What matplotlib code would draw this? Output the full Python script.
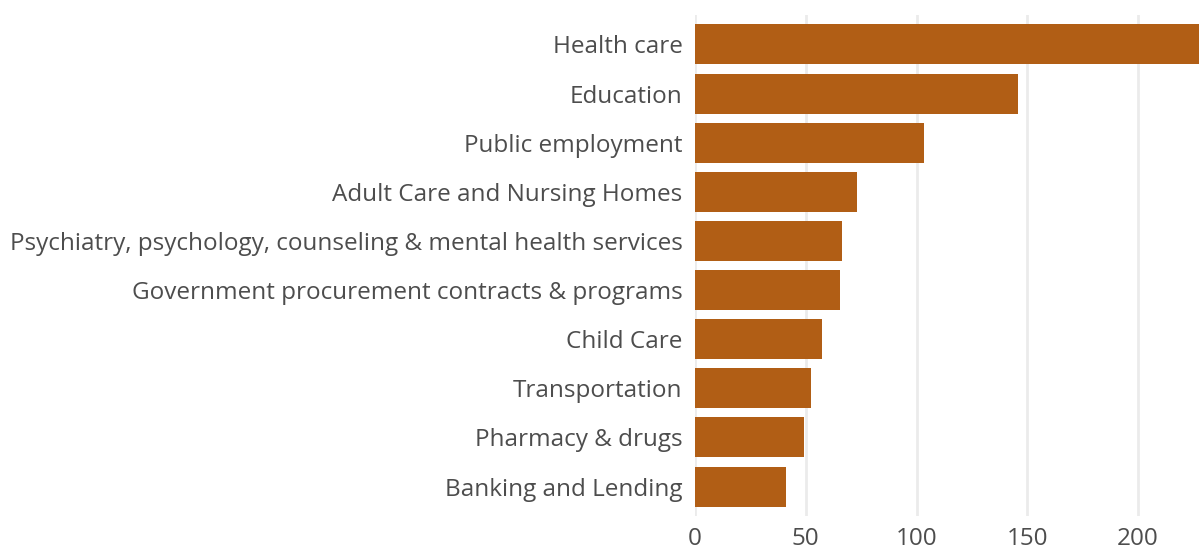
import matplotlib
matplotlib.use("Agg")
import matplotlib.pyplot as plt

categories = [
    "Health care",
    "Education",
    "Public employment",
    "Adult Care and Nursing Homes",
    "Psychiatry, psychology, counseling & mental health services",
    "Government procurement contracts & programs",
    "Child Care",
    "Transportation",
    "Pharmacy & drugs",
    "Banking and Lending",
]
values = [240, 146, 103.3, 73, 66.2, 65.3, 57.2, 52.3, 49.1, 41]
xticks = [0, 50, 100, 150, 200]

plt.rcParams['font.family'] = ['Open Sans', 'DejaVu Sans']

fig = plt.figure(figsize=(11.99, 5.5), dpi=100)
ax = fig.add_axes([695/1199, 1 - 516/550, (1199 - 695)/1199, (516 - 15)/550])

y = list(range(len(categories)))
ax.barh(y, values, height=0.815, color="#b15e15", zorder=3)
ax.set_ylim(len(categories) - 0.4, -0.6)
ax.set_xlim(0, 227.5)
ax.set_yticks(y)
ax.set_yticklabels(categories)
ax.set_xticks(xticks)
ax.set_xticklabels([str(t) for t in xticks])
ax.tick_params(axis='both', length=0, labelsize=17.5, labelcolor="#4d4d4d")
ax.tick_params(axis='y', pad=9)
ax.tick_params(axis='x', pad=8)
ax.xaxis.grid(True, color="#ebebeb", linewidth=2, zorder=0)
ax.yaxis.grid(False)
for s in ax.spines.values():
    s.set_visible(False)

fig.savefig("out.png", dpi=100)
